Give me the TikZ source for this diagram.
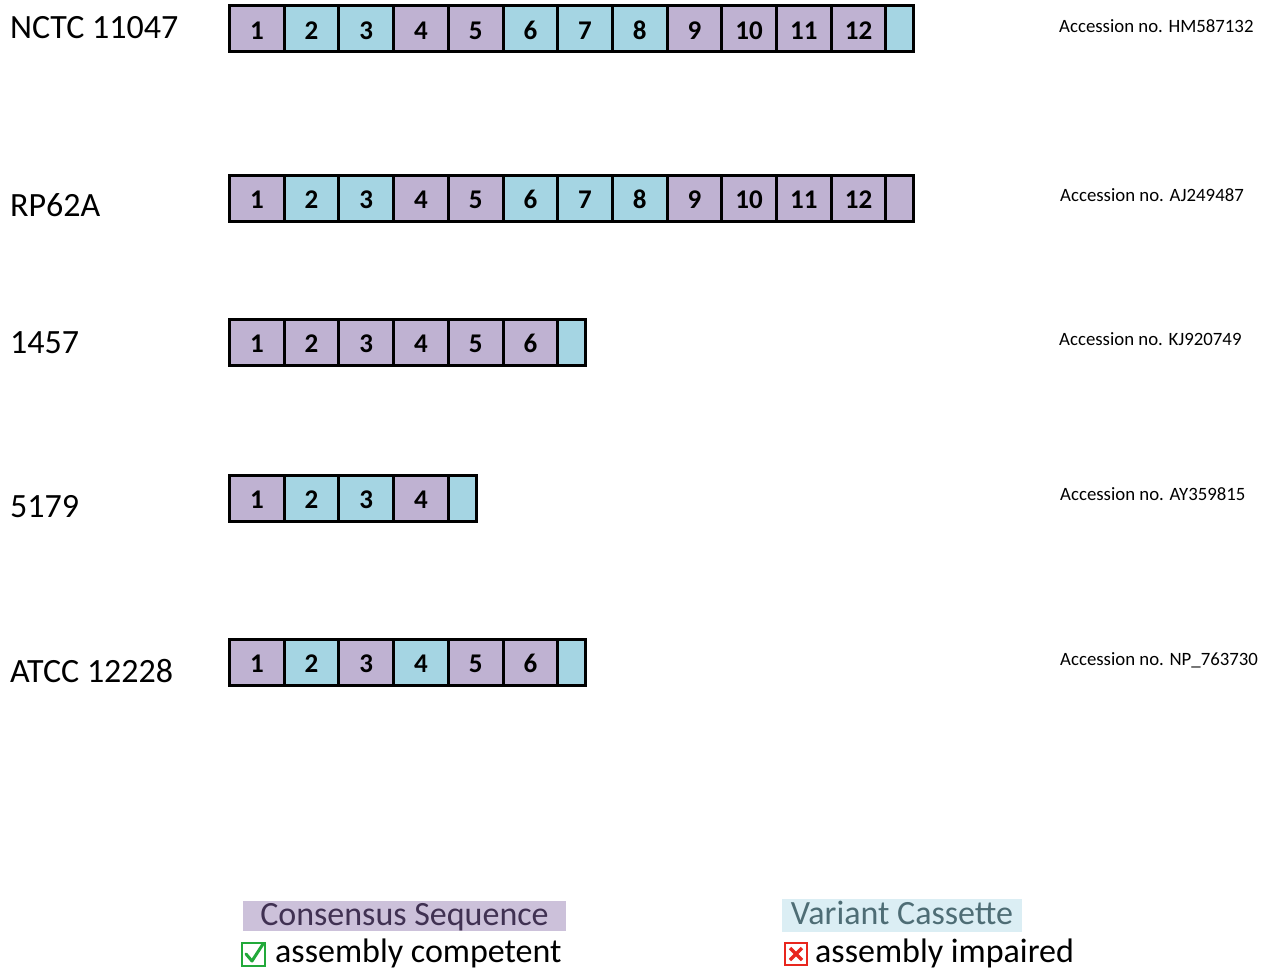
\documentclass[tikz,border=0pt]{standalone}
\usepackage{fontspec}
\setmainfont{Carlito}
\definecolor{cpur}{HTML}{BFB2D2}
\definecolor{cblu}{HTML}{A5D5E3}
\definecolor{legpur}{HTML}{CCC1DA}
\definecolor{legblu}{HTML}{DBEEF4}
\definecolor{legpurtxt}{HTML}{403152}
\definecolor{legblutxt}{HTML}{4E6D75}
\definecolor{okgreen}{HTML}{22A93A}
\definecolor{badred}{HTML}{E8261E}
\newcommand\seqrow[5]{% #1 name, #2 y, #3 colours, #4 count, #5 last colour
  \foreach \c [count=\i] in {#3} {
    \node[cell, fill=\c] (#1-\i) at ({228+(\i-1)*54.7}, #2) {\i};
  }
  \node[cell, fill=#5, minimum width=28pt] (#1-end) at ({228+#4*54.7}, #2) {};
}
\begin{document}
\begin{tikzpicture}[x=1pt, y=-1pt,
  cell/.style={draw, line width=3pt, minimum width=54.7pt, minimum height=46pt,
    inner sep=0pt, anchor=west, text height=21pt, text depth=0pt,
    font=\fontsize{27}{27}\selectfont\bfseries},
  strain/.style={anchor=base west, inner sep=0pt, font=\fontsize{34}{34}\selectfont},
  acc/.style={anchor=base west, inner sep=0pt, font=\fontsize{18.8}{18.8}\selectfont},
  legbox/.style={inner sep=0pt, text height=22pt, text depth=4pt, font=\fontsize{34}{34}\selectfont},
  legtxt/.style={anchor=base west, inner sep=0pt, font=\fontsize{34}{34}\selectfont}]
\useasboundingbox (0,0) rectangle (1264,969);

% strain labels
\node[strain] (l1) at (10,38.5) {NCTC 11047};
\node[strain] (l2) at (10,216.5) {RP62A};
\node[strain] (l3) at (10,353) {1457};
\node[strain] (l4) at (10,517) {5179};
\node[strain] (l5) at (10,682) {ATCC 12228};

% rows
\seqrow{r1}{28.5}{cpur,cblu,cblu,cpur,cpur,cblu,cblu,cblu,cpur,cpur,cpur,cpur}{12}{cblu}
\seqrow{r2}{198}{cpur,cblu,cblu,cpur,cpur,cblu,cblu,cblu,cpur,cpur,cpur,cpur}{12}{cpur}
\seqrow{r3}{342}{cpur,cpur,cpur,cpur,cpur,cpur}{6}{cblu}
\seqrow{r4}{498}{cpur,cblu,cblu,cpur}{4}{cblu}
\seqrow{r5}{662}{cpur,cblu,cpur,cblu,cpur,cpur}{6}{cblu}

% accession numbers
\node[acc] (a1) at (1059,32) {Accession no. HM587132};
\node[acc] (a2) at (1060,201) {Accession no. AJ249487};
\node[acc] (a3) at (1059,345) {Accession no. KJ920749};
\node[acc] (a4) at (1060,500) {Accession no. AY359815};
\node[acc] (a5) at (1060,665) {Accession no. NP\_763730};

% legend
\node[legbox, fill=legpur, text=legpurtxt, minimum width=323pt, minimum height=30pt] (cons) at (404.5,916) {Consensus Sequence};
\node[legbox, fill=legblu, text=legblutxt, minimum width=240pt, minimum height=33pt] (var) at (902,915.5) {Variant Cassette};

% check box
\draw[okgreen, line width=2pt] (242,943) rectangle (265,966);
\draw[okgreen, line width=3pt, line join=round, line cap=round] (246,954) -- (252,961) -- (263,944);
\node[legtxt] (comp) at (275,962.5) {assembly competent};

% cross box
\draw[badred, line width=2pt] (785,943) rectangle (807,965);
\draw[badred, line width=3.5pt] (790,948) -- (802,960) (802,948) -- (790,960);
\node[legtxt] (imp) at (815,962.5) {assembly impaired};
\end{tikzpicture}
\end{document}
